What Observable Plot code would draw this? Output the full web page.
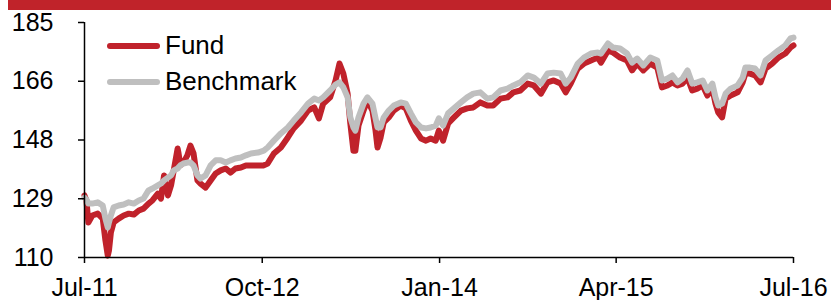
<!DOCTYPE html>
<html>
<head>
<meta charset="utf-8">
<script src="https://cdn.jsdelivr.net/npm/d3@7"></script>
<script src="https://cdn.jsdelivr.net/npm/@observablehq/plot@0.6"></script>
<style>
  html, body { margin: 0; padding: 0; background: #fff; }
  #wrap { position: relative; width: 831px; height: 300px; font-family: "Liberation Sans", Arial, sans-serif; overflow: hidden; }
  #topbar { position: absolute; left: 8px; top: 0; width: 823px; height: 10px; background: #C0232A; }
  .lg-line { position: absolute; height: 6px; border-radius: 3px; }
  .lg-text { position: absolute; font-size: 26px; line-height: 26px; color: #000; white-space: nowrap; }
  #chart { position: absolute; left: 0; top: 0; }
</style>
</head>
<body>
<div id="wrap">
  <div id="chart"></div>
  <div id="topbar"></div>
  <div id="legend"></div>
</div>
<script>
const dates = [
"2011-07-01","2011-07-06","2011-07-11","2011-07-21","2011-08-04","2011-08-17","2011-08-24","2011-08-30","2011-09-02","2011-09-07",
"2011-09-14","2011-09-27","2011-10-10","2011-10-23","2011-11-05","2011-11-18","2011-11-30","2011-12-13","2011-12-23","2012-01-06",
"2012-01-14","2012-01-22","2012-02-01","2012-02-09","2012-02-16","2012-02-26","2012-02-28","2012-03-04","2012-03-12","2012-03-22",
"2012-03-30","2012-04-07","2012-04-17","2012-04-25","2012-05-08","2012-05-21","2012-06-03","2012-06-16","2012-06-29","2012-07-11",
"2012-07-24","2012-08-07","2012-08-20","2012-09-02","2012-09-20","2012-10-05","2012-10-15","2012-10-31","2012-11-18","2012-12-06",
"2012-12-21","2013-01-09","2013-01-27","2013-02-12","2013-02-24","2013-03-07","2013-03-25","2013-04-08","2013-04-18","2013-04-28",
"2013-05-09","2013-05-16","2013-05-24","2013-05-29","2013-06-06","2013-06-19","2013-06-29","2013-07-12","2013-07-20","2013-07-25",
"2013-08-02","2013-08-10","2013-08-23","2013-09-05","2013-09-23","2013-10-06","2013-10-19","2013-11-01","2013-11-14","2013-11-27",
"2013-12-09","2013-12-22","2013-12-30","2014-01-10","2014-01-23","2014-02-07","2014-02-25","2014-03-13","2014-03-29","2014-04-16",
"2014-05-04","2014-05-19","2014-06-07","2014-06-25","2014-07-10","2014-07-28","2014-08-16","2014-09-01","2014-09-19","2014-10-06",
"2014-10-22","2014-11-09","2014-11-22","2014-12-05","2014-12-23","2015-01-08","2015-01-26","2015-02-13","2015-02-21","2015-03-11",
"2015-03-24","2015-04-11","2015-04-29","2015-05-12","2015-05-25","2015-06-10","2015-06-28","2015-07-16","2015-07-28","2015-08-11",
"2015-08-24","2015-09-06","2015-09-19","2015-10-02","2015-10-14","2015-10-27","2015-11-10","2015-11-22","2015-12-05","2015-12-13",
"2015-12-20","2015-12-30","2016-01-08","2016-01-21","2016-02-08","2016-02-21","2016-02-28","2016-03-11","2016-03-24","2016-04-07",
"2016-04-20","2016-05-07","2016-05-23","2016-06-10","2016-06-23","2016-07-01"
];
const fund = [
129.8,128.2,121.2,123.4,124.0,122.4,115.4,110.6,112.2,118.0,
121.2,122.4,123.4,124.0,123.7,125.0,125.6,127.2,128.2,130.4,
128.8,136.2,129.8,133.0,137.8,144.8,143.5,139.4,140.3,142.6,
145.7,143.2,134.6,133.6,132.3,134.6,136.8,137.8,138.4,137.1,
138.4,138.7,139.4,139.4,139.4,139.4,140.0,143.2,145.1,148.3,
151.2,153.7,156.9,157.9,154.4,159.1,161.1,166.5,171.9,168.7,
162.3,152.8,144.1,144.1,152.1,156.9,160.1,156.9,150.5,145.1,
148.3,153.1,154.7,156.9,158.5,157.6,153.7,150.5,148.0,147.3,
148.0,147.3,150.5,147.3,152.8,154.7,156.9,157.6,157.9,159.5,
158.5,158.5,160.7,161.1,162.7,163.3,165.5,164.9,162.3,165.9,
166.5,165.5,162.7,165.5,170.3,171.9,172.9,173.8,172.2,176.1,
175.4,173.8,172.9,169.7,171.9,169.7,171.9,170.6,164.3,164.9,
165.9,164.9,165.5,167.4,163.3,163.9,164.9,161.7,163.9,159.1,
156.3,154.7,160.7,161.7,162.7,165.9,168.7,168.7,168.1,165.9,
170.3,171.9,173.8,175.1,177.0,177.7
];
const bench = [
129.1,128.5,127.2,127.2,127.6,126.6,122.4,119.6,121.2,123.4,
126.0,126.6,126.9,127.6,127.2,128.2,128.8,131.4,132.0,133.0,
133.6,134.6,135.5,136.2,137.8,138.4,138.7,139.4,140.0,140.3,
140.3,139.4,136.2,135.2,136.2,139.4,141.0,141.0,140.3,141.0,
141.6,141.9,142.6,143.2,143.5,144.1,145.1,147.3,149.6,151.5,
153.7,156.3,159.1,160.7,160.1,161.1,163.3,165.2,165.9,164.3,
161.1,154.7,151.5,150.5,154.7,159.1,161.1,159.1,154.4,151.5,
151.5,154.7,156.9,158.5,159.5,159.1,156.0,153.1,151.5,151.2,
151.5,152.1,154.4,152.1,156.0,157.6,159.5,161.1,162.3,162.7,
160.7,161.1,163.3,163.9,164.9,165.9,168.1,167.4,165.5,168.7,
169.0,168.7,165.5,167.4,171.9,173.8,175.1,175.4,175.1,178.3,
177.0,176.7,175.1,172.2,173.5,171.3,173.8,172.9,166.5,167.1,
168.1,165.9,167.1,169.7,165.5,165.9,166.5,163.3,165.5,161.1,
158.5,159.1,162.3,163.9,164.9,167.4,170.6,170.6,170.3,168.1,
172.9,174.5,176.1,177.7,179.9,180.2
];
const seriesNames = ["Fund", "Benchmark"];
const seriesColors = ["#C0222B", "#BFBFBF"];
const yTicks = [110, 128.75, 147.5, 166.25, 185];
const xTicks = ["2011-07-01","2012-10-01","2014-01-01","2015-04-01","2016-07-01"];

const parse = d3.utcParse("%Y-%m-%d");
const fundData = dates.map((d, i) => ({date: parse(d), value: fund[i]}));
const benchData = dates.map((d, i) => ({date: parse(d), value: bench[i]}));
const xTickDates = xTicks.map(parse);
const fmt = d3.utcFormat("%b-%y");

const plot = Plot.plot({
  width: 831,
  height: 300,
  marginLeft: 84,
  marginRight: 38,
  marginTop: 22,
  marginBottom: 43,
  style: {fontFamily: "'Liberation Sans', Arial, sans-serif", fontSize: "25px", color: "#000", background: "transparent", overflow: "visible"},
  x: {type: "utc", domain: [xTickDates[0], xTickDates[xTickDates.length - 1]], label: null},
  y: {domain: [110, 185], label: null},
  marks: [
    Plot.line(fundData, {x: "date", y: "value", stroke: seriesColors[0], strokeWidth: 6, strokeLinejoin: "round", strokeLinecap: "round"}),
    Plot.line(benchData, {x: "date", y: "value", stroke: seriesColors[1], strokeWidth: 6, strokeLinejoin: "round", strokeLinecap: "round"}),
    Plot.ruleX([xTickDates[0]], {stroke: "#000", strokeWidth: 1.5}),
    Plot.ruleY([110], {stroke: "#000", strokeWidth: 1.5}),
    Plot.axisY({ticks: yTicks, tickFormat: d => String(Math.round(d)), tickSize: 6, tickPadding: 25, fontSize: 25, label: null, stroke: "#000", strokeWidth: 1.5, strokeOpacity: 1}),
    Plot.axisX({ticks: xTickDates, tickFormat: fmt, tickSize: 6, tickPadding: 15, fontSize: 25, label: null, stroke: "#000", strokeWidth: 1.5, strokeOpacity: 1})
  ]
});
document.getElementById("chart").appendChild(plot);

const legend = document.getElementById("legend");
const lgTops = [32, 68];
seriesNames.forEach((name, i) => {
  const line = document.createElement("div");
  line.className = "lg-line";
  line.style.left = "107px";
  line.style.width = "53px";
  line.style.top = (lgTops[i] + 11) + "px";
  line.style.background = seriesColors[i];
  legend.appendChild(line);
  const t = document.createElement("div");
  t.className = "lg-text";
  t.style.left = "165px";
  t.style.top = lgTops[i] + "px";
  t.textContent = name;
  legend.appendChild(t);
});
</script>
</body>
</html>
